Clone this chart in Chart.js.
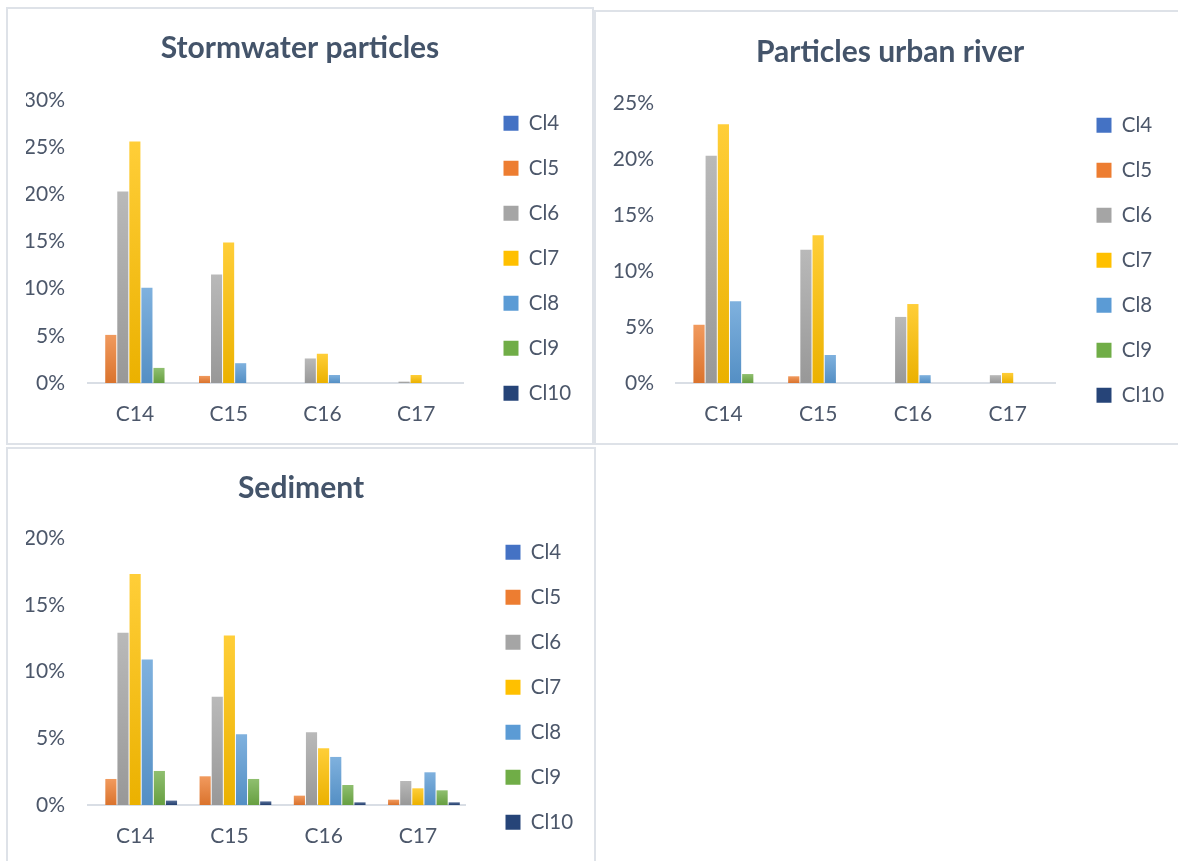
<!DOCTYPE html>
<html>
<head>
<meta charset="utf-8">
<script src="https://cdn.jsdelivr.net/npm/chart.js@4.4.1/dist/chart.umd.min.js"></script>
<style>
  html, body { margin: 0; padding: 0; background: #ffffff; overflow: hidden; width: 1178px; height: 861px; }
  .panel { position: absolute; border: 2px solid #DEE2E8; background: #ffffff; }
  .panel canvas { display: block; }
</style>
</head>
<body>
<div class="panel" style="left:6px; top:7px; width:584px; height:434px;"><canvas id="c1" width="584" height="434"></canvas></div>
<div class="panel" style="left:594px; top:10px; width:584px; height:431px;"><canvas id="c2" width="584" height="431"></canvas></div>
<div class="panel" style="left:6px; top:447px; width:586px; height:412px;"><canvas id="c3" width="586" height="412"></canvas></div>
<script>
// ---- data ----
const categories = ['C14', 'C15', 'C16', 'C17'];
const seriesNames = ['Cl4', 'Cl5', 'Cl6', 'Cl7', 'Cl8', 'Cl9', 'Cl10'];
const seriesColors = ['#4472C4', '#ED7D31', '#A5A5A5', '#FFC000', '#5B9BD5', '#70AD47', '#264478'];

// Stormwater particles (%)
const storm_Cl4  = [0, 0, 0, 0];
const storm_Cl5  = [5.1, 0.75, 0, 0];
const storm_Cl6  = [20.3, 11.5, 2.6, 0.15];
const storm_Cl7  = [25.6, 14.9, 3.1, 0.85];
const storm_Cl8  = [10.1, 2.1, 0.85, 0];
const storm_Cl9  = [1.6, 0, 0, 0];
const storm_Cl10 = [0, 0, 0, 0];

// Particles urban river (%)
const river_Cl4  = [0, 0, 0, 0];
const river_Cl5  = [5.2, 0.6, 0, 0];
const river_Cl6  = [20.3, 11.9, 5.9, 0.7];
const river_Cl7  = [23.1, 13.2, 7.05, 0.9];
const river_Cl8  = [7.3, 2.5, 0.7, 0];
const river_Cl9  = [0.8, 0, 0, 0];
const river_Cl10 = [0, 0, 0, 0];

// Sediment (%)
const sed_Cl4  = [0, 0, 0, 0];
const sed_Cl5  = [1.95, 2.15, 0.7, 0.4];
const sed_Cl6  = [12.9, 8.1, 5.45, 1.8];
const sed_Cl7  = [17.3, 12.7, 4.25, 1.25];
const sed_Cl8  = [10.9, 5.3, 3.6, 2.45];
const sed_Cl9  = [2.55, 1.95, 1.5, 1.1];
const sed_Cl10 = [0.33, 0.27, 0.2, 0.2];

const titles = ['Stormwater particles', 'Particles urban river', 'Sediment'];
const yMax = [30, 25, 20];
const yStep = 5;

// ---- helpers ----
const FONT = 'Lato, "Open Sans", sans-serif';
const TEXT = '#4C576A';
const TITLE = '#44546A';

function hexToRgb(h) {
  const n = parseInt(h.slice(1), 16);
  return [(n >> 16) & 255, (n >> 8) & 255, n & 255];
}
function mix(hex, target, t) {
  const a = hexToRgb(hex), b = hexToRgb(target);
  const c = a.map((v, i) => Math.round(v + (b[i] - v) * t));
  return 'rgb(' + c.join(',') + ')';
}
function gradientFill(base) {
  return function (ctx) {
    const chart = ctx.chart;
    if (ctx.type !== 'data' || !chart.chartArea || !chart.scales.y) return base;
    const y = chart.scales.y;
    const top = y.getPixelForValue(ctx.raw);
    const bot = y.getPixelForValue(0);
    if (!isFinite(top) || !isFinite(bot) || Math.abs(bot - top) < 0.5) return base;
    const g = chart.ctx.createLinearGradient(0, top, 0, bot);
    g.addColorStop(0, mix(base, '#ffffff', 0.22));
    g.addColorStop(1, mix(base, '#000000', 0.08));
    return g;
  };
}

function makeChart(id, seriesData, idx, p) {
  const datasets = seriesNames.map((name, i) => ({
    label: name,
    data: seriesData[i],
    backgroundColor: gradientFill(seriesColors[i]),
    borderWidth: 0,
    categoryPercentage: 0.9,
    barPercentage: 0.92
  }));
  return new Chart(document.getElementById(id), {
    type: 'bar',
    data: { labels: categories, datasets },
    options: {
      responsive: false,
      animation: false,
      devicePixelRatio: 1,
      layout: { padding: { left: p.padLeft, top: 0, right: p.padRight, bottom: p.padBottom } },
      plugins: {
        tooltip: { enabled: false },
        title: {
          display: true,
          text: titles[idx],
          color: TITLE,
          font: { family: FONT, size: 30, weight: 'bold', lineHeight: 1.2 },
          padding: { top: p.titleTop, bottom: p.titleBottom }
        },
        legend: {
          position: 'right',
          align: 'end',
          maxWidth: 95,
          labels: {
            color: TEXT,
            font: { family: FONT, size: 20.5 },
            boxWidth: 15,
            boxHeight: 15,
            padding: 24.5,
            generateLabels: (chart) => chart.data.datasets.map((ds, i) => ({
              text: ds.label,
              fillStyle: seriesColors[i],
              strokeStyle: seriesColors[i],
              lineWidth: 0,
              hidden: false,
              datasetIndex: i,
              fontColor: TEXT
            }))
          }
        }
      },
      scales: {
        x: {
          grid: { display: false, drawTicks: false },
          border: { display: true, color: '#D9DEE5', width: 2 },
          ticks: { color: TEXT, font: { family: FONT, size: 21 }, padding: p.xPad },
          afterFit: (s) => { s.height = p.xHeight; }
        },
        y: {
          min: 0,
          max: yMax[idx],
          grid: { display: false, drawTicks: false },
          border: { display: false },
          ticks: {
            stepSize: yStep,
            color: TEXT,
            font: { family: FONT, size: 21 },
            padding: p.yPad,
            callback: (v) => v + '%'
          },
          afterFit: (s) => { s.width = 80 - p.padLeft; }
        },
        gap: {
          position: 'right',
          display: true,
          grid: { display: false, drawTicks: false },
          border: { display: false },
          ticks: { display: false },
          afterFit: (s) => { s.width = p.gap; }
        }
      }
    }
  });
}

makeChart('c1', [storm_Cl4, storm_Cl5, storm_Cl6, storm_Cl7, storm_Cl8, storm_Cl9, storm_Cl10], 0,
  { padLeft: 18, padRight: 18, padBottom: 15, titleTop: 21, titleBottom: 34, xHeight: 45, xPad: 19, yPad: 23, gap: 16 });
makeChart('c2', [river_Cl4, river_Cl5, river_Cl6, river_Cl7, river_Cl8, river_Cl9, river_Cl10], 1,
  { padLeft: 17, padRight: 13, padBottom: 13, titleTop: 22, titleBottom: 33, xHeight: 47, xPad: 19, yPad: 22, gap: 17 });
makeChart('c3', [sed_Cl4, sed_Cl5, sed_Cl6, sed_Cl7, sed_Cl8, sed_Cl9, sed_Cl10], 2,
  { padLeft: 18, padRight: 18, padBottom: 4, titleTop: 21, titleBottom: 32, xHeight: 52, xPad: 19, yPad: 23, gap: 16 });
</script>
</body>
</html>
